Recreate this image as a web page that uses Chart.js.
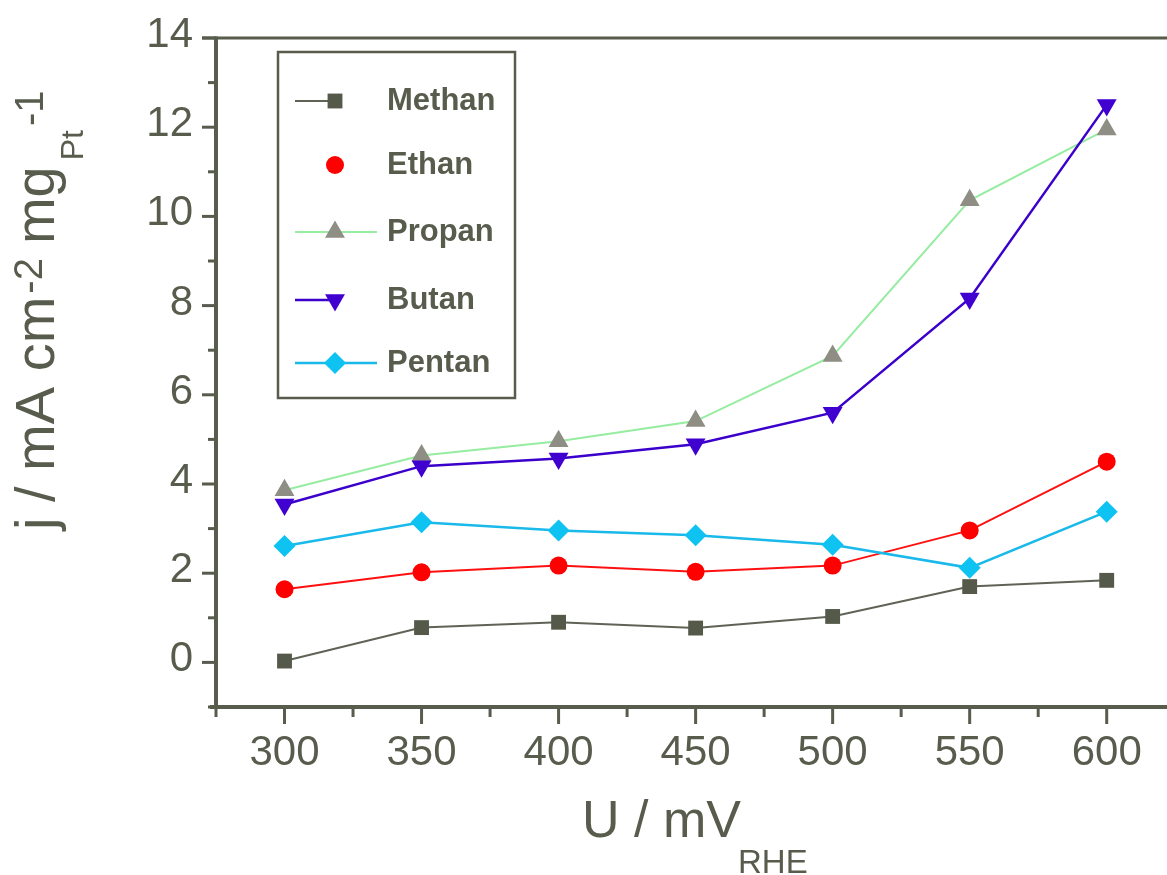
<!DOCTYPE html>
<html>
<head>
<meta charset="utf-8">
<script src="https://cdn.jsdelivr.net/npm/chart.js@4.4.0/dist/chart.umd.min.js"></script>
<style>
  html, body { margin: 0; padding: 0; background: #fff; }
  #wrap { width: 1167px; height: 875px; position: relative; }
</style>
</head>
<body>
<div id="wrap"><canvas id="c" width="1167" height="875"></canvas></div>
<script>
(function () {
  'use strict';

  // potentials (mV vs RHE)
  var potentials = [300, 350, 400, 450, 500, 550, 600];
  // current density, mA cm-2 mg_Pt-1
  var methan = [0.03, 0.78, 0.90, 0.77, 1.03, 1.70, 1.84];
  var ethan  = [1.64, 2.02, 2.17, 2.03, 2.17, 2.96, 4.50];
  var propan = [3.86, 4.64, 4.96, 5.41, 6.87, 10.36, 11.95];
  var butan  = [3.54, 4.40, 4.57, 4.89, 5.60, 8.16, 12.50];
  var pentan = [2.61, 3.14, 2.96, 2.85, 2.64, 2.12, 3.38];

  var seriesNames = ['Methan', 'Ethan', 'Propan', 'Butan', 'Pentan'];
  var xTickLabels = ['300', '350', '400', '450', '500', '550', '600'];
  var yTickLabels = ['0', '2', '4', '6', '8', '10', '12', '14'];

  var INK = '#585c4d';
  var FONT = '"Liberation Sans", Arial, sans-serif';

  function pts(vals) {
    return vals.map(function (v, i) { return { x: potentials[i], y: v }; });
  }

  var datasets = [
    { label: seriesNames[0], data: pts(methan), borderColor: '#5f6356', backgroundColor: '#55594a',
      pointStyle: 'rect', pointRadius: 10.5, borderWidth: 2, order: 5 },
    { label: seriesNames[1], data: pts(ethan), borderColor: '#ff1010', backgroundColor: '#ff0000',
      pointStyle: 'circle', pointRadius: 9, borderWidth: 2, order: 4 },
    { label: seriesNames[2], data: pts(propan), borderColor: '#96eca0', backgroundColor: '#8e8e84',
      pointStyle: 'triangle', pointRadius: 11.5, borderWidth: 2, order: 3 },
    { label: seriesNames[3], data: pts(butan), borderColor: '#3b00cc', backgroundColor: '#4000d0',
      pointStyle: 'triangle', pointRotation: 180, pointRadius: 11.5, borderWidth: 2.5, order: 2 },
    { label: seriesNames[4], data: pts(pentan), borderColor: '#19b9ea', backgroundColor: '#0ec2f2',
      pointStyle: 'rectRot', pointRadius: 11, borderWidth: 2.5, order: 1 }
  ];
  datasets.forEach(function (d) {
    d.pointBorderWidth = 0;
    d.pointBackgroundColor = d.backgroundColor;
    d.pointBorderColor = d.backgroundColor;
    d.tension = 0;
    d.fill = false;
    d.clip = false;
  });

  // own legend shape, matching the dataset point styles
  function shape(ctx, style, rot, x, y, r, color) {
    ctx.save();
    ctx.fillStyle = color;
    ctx.beginPath();
    if (style === 'circle') {
      ctx.arc(x, y, r, 0, Math.PI * 2);
    } else if (style === 'rect') {
      var s = r * Math.SQRT1_2;
      ctx.rect(x - s, y - s, 2 * s, 2 * s);
    } else if (style === 'rectRot') {
      ctx.moveTo(x, y - r); ctx.lineTo(x + r, y); ctx.lineTo(x, y + r); ctx.lineTo(x - r, y);
    } else if (style === 'triangle') {
      var a = (rot || 0) * Math.PI / 180;
      for (var k = 0; k < 3; k++) {
        var px = x + Math.sin(a) * r, py = y - Math.cos(a) * r;
        if (k === 0) ctx.moveTo(px, py); else ctx.lineTo(px, py);
        a += Math.PI * 2 / 3;
      }
    }
    ctx.closePath();
    ctx.fill();
    ctx.restore();
  }

  var frame = {
    id: 'frame',
    afterDatasetsDraw: function (chart) {
      var ctx = chart.ctx, ca = chart.chartArea;
      var xs = chart.scales.x, ys = chart.scales.y;
      ctx.save();
      ctx.strokeStyle = INK;
      ctx.fillStyle = INK;
      ctx.lineCap = 'butt';

      // axis lines
      ctx.lineWidth = 3;
      ctx.beginPath(); ctx.moveTo(202, ca.top); ctx.lineTo(1167, ca.top); ctx.stroke();
      ctx.lineWidth = 4;
      ctx.beginPath(); ctx.moveTo(ca.left, ca.top - 1.5); ctx.lineTo(ca.left, ca.bottom + 2); ctx.stroke();
      ctx.beginPath(); ctx.moveTo(ca.left - 6, ca.bottom); ctx.lineTo(1167, ca.bottom); ctx.stroke();

      // y ticks
      ctx.lineWidth = 3;
      var v, p;
      for (v = -1; v <= 14; v++) {
        p = ys.getPixelForValue(v);
        var len = (v % 2 === 0) ? 14 : 8;
        ctx.beginPath(); ctx.moveTo(ca.left, p); ctx.lineTo(ca.left - len, p); ctx.stroke();
      }
      // x ticks
      for (v = 275; v <= 600; v += 25) {
        p = xs.getPixelForValue(v);
        var lx = (v % 50 === 0) ? 17 : 10;
        ctx.beginPath(); ctx.moveTo(p, ca.bottom); ctx.lineTo(p, ca.bottom + lx); ctx.stroke();
      }

      // tick labels
      ctx.font = '42px ' + FONT;
      ctx.textBaseline = 'alphabetic';
      ctx.textAlign = 'right';
      yTickLabels.forEach(function (t) {
        ctx.fillText(t, 193, ys.getPixelForValue(Number(t)) + 9);
      });
      ctx.textAlign = 'center';
      xTickLabels.forEach(function (t) {
        ctx.fillText(t, xs.getPixelForValue(Number(t)), 765);
      });

      // x title
      ctx.textAlign = 'left';
      ctx.font = '52px ' + FONT;
      ctx.fillText('U / mV', 582, 837);
      ctx.font = '33px ' + FONT;
      ctx.fillText('RHE', 738, 873);

      // y title (rotated, pieces with super/subscripts)
      ctx.save();
      ctx.translate(54, 530);
      ctx.rotate(-Math.PI / 2);
      var parts = [
        { t: 'j / mA cm', f: 56, dy: 0, gap: 3 },
        { t: '-2', f: 40, dy: -12, gap: 14 },
        { t: 'mg', f: 56, dy: 0, gap: 6 },
        { t: 'Pt', f: 32, dy: 29, gap: 4 },
        { t: '-1', f: 40, dy: -11, gap: 0 }
      ];
      var cx = 0;
      parts.forEach(function (pt) {
        ctx.font = pt.f + 'px ' + FONT;
        ctx.fillText(pt.t, cx, pt.dy);
        cx += ctx.measureText(pt.t).width + pt.gap;
      });
      ctx.restore();

      // legend
      ctx.fillStyle = '#fff';
      ctx.fillRect(278, 52, 237, 346);
      ctx.lineWidth = 2.5;
      ctx.strokeStyle = INK;
      ctx.strokeRect(278, 52, 237, 346);
      var rows = [101, 165, 232, 300, 363];
      chart.data.datasets.forEach(function (d, i) {
        var yy = rows[i];
        if (i !== 1) {
          ctx.lineWidth = d.borderWidth;
          ctx.strokeStyle = d.borderColor;
          ctx.beginPath();
          ctx.moveTo(295, yy);
          ctx.lineTo((i === 0 || i === 3) ? 330 : 377, yy);
          ctx.stroke();
        }
        shape(ctx, d.pointStyle, d.pointRotation, 335, yy, d.pointRadius, d.backgroundColor);
        ctx.fillStyle = INK;
        ctx.font = 'bold 31px ' + FONT;
        ctx.textAlign = 'left';
        ctx.textBaseline = 'middle';
        ctx.fillText(d.label, 387, yy);
      });
      ctx.restore();
    }
  };

  new Chart(document.getElementById('c').getContext('2d'), {
    type: 'line',
    data: { datasets: datasets },
    options: {
      responsive: false,
      animation: false,
      layout: { autoPadding: false, padding: { left: 216, top: 38, right: 0, bottom: 168 } },
      plugins: { legend: { display: false }, tooltip: { enabled: false } },
      scales: {
        x: { type: 'linear', min: 275, max: 622, display: false },
        y: { type: 'linear', min: -1, max: 14, display: false }
      }
    },
    plugins: [frame]
  });
})();
</script>
</body>
</html>
